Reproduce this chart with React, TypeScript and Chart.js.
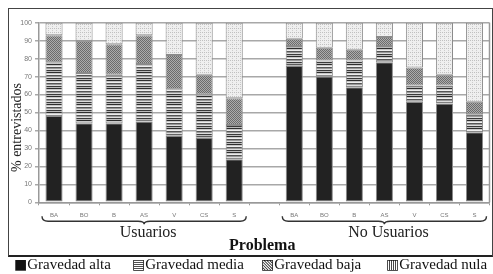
import React, { useEffect, useRef } from "react";
import { Chart, registerables } from "chart.js";

Chart.register(...registerables);

const categories = ["BA", "BO", "B", "AS", "V", "CS", "S", "", "BA", "BO", "B", "AS", "V", "CS", "S"];
const groupLabels = ["Usuarios", "No Usuarios"];
const groupRanges = [[0, 6], [8, 14]];
const seriesNames = ["Gravedad alta", "Gravedad media", "Gravedad baja", "Gravedad nula"];
const legendGlyphs = ["■", "▤", "▧", "▥"];
const alta = [48, 44, 44, 45, 37, 36, 24, null, 76, 70, 64, 78, 56, 55, 39];
const media = [30, 28, 27, 32, 26, 24, 19, null, 11, 9, 15, 9, 9, 10, 10];
const baja = [15, 18, 17, 16, 19, 11, 15, null, 4, 7, 6, 5, 10, 6, 7];
const nula = [7, 10, 12, 7, 18, 29, 42, null, 9, 14, 15, 8, 25, 29, 44];
const yTitle = "% entrevistados";
const xTitle = "Problema";

function makePattern(kind: string): CanvasPattern | string {
  const c = document.createElement("canvas");
  const g = c.getContext("2d");
  if (!g) return "#888";
  if (kind === "media") {
    c.width = 4;
    c.height = 8;
    const rows = ["#2e2e2e", "#c8c8c8", "#eeeeee", "#555", "#999", "#dddddd", "#3a3a3a", "#bbbbbb"];
    rows.forEach((col, i) => {
      g.fillStyle = col;
      g.fillRect(0, i, 4, 1);
    });
  } else if (kind === "baja") {
    c.width = 2;
    c.height = 2;
    g.fillStyle = "#6c6c6c";
    g.fillRect(0, 0, 1, 1);
    g.fillRect(1, 1, 1, 1);
    g.fillStyle = "#acacac";
    g.fillRect(1, 0, 1, 1);
    g.fillRect(0, 1, 1, 1);
  } else if (kind === "nula") {
    c.width = 4;
    c.height = 4;
    g.fillStyle = "#efefef";
    g.fillRect(0, 0, 4, 4);
    g.fillStyle = "#c0c0c0";
    g.fillRect(0, 0, 1, 1);
    g.fillRect(2, 0, 1, 1);
    g.fillStyle = "#cdcdcd";
    g.fillRect(0, 2, 1, 1);
  }
  const p = g.createPattern(c, "repeat");
  return p || "#888";
}

const annotations = {
  id: "annotations",
  afterDraw(chart: any) {
    const { ctx, chartArea } = chart;
    const x = chart.scales.x;
    ctx.save();
    ctx.strokeStyle = "#999";
    ctx.lineWidth = 1.5;
    ctx.beginPath();
    ctx.moveTo(chartArea.right, chartArea.top);
    ctx.lineTo(chartArea.right, chartArea.bottom);
    ctx.stroke();

    const b = chartArea.bottom;
    groupRanges.forEach((rg, gi) => {
      const x0 = x.getPixelForValue(rg[0]) - 12;
      const x1 = x.getPixelForValue(rg[1]) + 12;
      const xm = (x0 + x1) / 2;
      const yTop = b + 14;
      const yMid = b + 19;
      const yBot = b + 22;
      const r = 6;
      ctx.strokeStyle = "#333";
      ctx.lineWidth = 1.4;
      ctx.beginPath();
      ctx.moveTo(x0, yTop);
      ctx.quadraticCurveTo(x0, yMid, x0 + r, yMid);
      ctx.lineTo(xm - r, yMid);
      ctx.quadraticCurveTo(xm, yMid, xm, yBot);
      ctx.quadraticCurveTo(xm, yMid, xm + r, yMid);
      ctx.lineTo(x1 - r, yMid);
      ctx.quadraticCurveTo(x1, yMid, x1, yTop);
      ctx.stroke();
      ctx.fillStyle = "#222";
      ctx.font = '16px "Liberation Serif"';
      ctx.textAlign = "center";
      ctx.textBaseline = "middle";
      ctx.fillText(groupLabels[gi], xm + 4, b + 30);
    });

    ctx.font = 'bold 16px "Liberation Serif"';
    ctx.fillStyle = "#111";
    ctx.textAlign = "center";
    ctx.textBaseline = "middle";
    ctx.fillText(xTitle, (chartArea.left + chartArea.right) / 2 - 2, b + 44);

    ctx.translate(17.5, (chartArea.top + chartArea.bottom) / 2 + 15);
    ctx.rotate(-Math.PI / 2);
    ctx.font = '14px "Liberation Serif"';
    ctx.fillStyle = "#222";
    ctx.fillText(yTitle, 0, 0);
    ctx.restore();
  },
};

export default function App() {
  const ref = useRef<HTMLCanvasElement | null>(null);
  useEffect(() => {
    if (!ref.current) return;
    const fills = [
      "#222222",
      makePattern("media"),
      makePattern("baja"),
      makePattern("nula"),
    ];
    const values = [alta, media, baja, nula];
    const chart = new Chart(ref.current, {
      type: "bar",
      data: {
        labels: categories,
        datasets: seriesNames.map((name, i) => ({
          label: name,
          data: values[i] as any,
          backgroundColor: fills[i] as any,
          borderColor: "#8a8a8a",
          borderWidth: 1,
          borderSkipped: false,
          categoryPercentage: 1,
          barPercentage: 0.57,
        })),
      },
      options: {
        animation: false,
        responsive: false,
        devicePixelRatio: 1,
        layout: { padding: { left: 0, right: 3.5, top: 22.7, bottom: 0 } },
        plugins: { legend: { display: false }, tooltip: { enabled: false } },
        scales: {
          x: {
            stacked: true,
            grid: { drawOnChartArea: false, tickLength: 3, color: "#999", lineWidth: 1 },
            border: { color: "#999", width: 1.5 },
            ticks: {
              color: "#777",
              font: { size: 6, family: '"Liberation Sans"' },
              padding: 6,
              maxRotation: 0,
              autoSkip: false,
            },
            afterFit(scale: any) {
              scale.height = 52.7;
            },
          },
          y: {
            stacked: true,
            min: 0,
            max: 100,
            grid: { color: "#a8a8a8", lineWidth: 1.5, tickLength: 4 },
            border: { color: "#999", width: 1.5 },
            ticks: {
              stepSize: 10,
              color: "#777",
              font: { size: 7, family: '"Liberation Sans"' },
              padding: 3,
            },
            afterFit(scale: any) {
              scale.width = 39;
            },
          },
        },
      },
      plugins: [annotations],
    });
    return () => chart.destroy();
  }, []);

  const legendLefts = [14, 132, 261, 386];
  return (
    <div style={{ position: "fixed", left: 0, top: 0, width: 493, height: 274, overflow: "hidden", background: "#fff" }}>
      <canvas ref={ref} width={493} height={255} style={{ position: "absolute", left: 0, top: 0, width: 493, height: 255 }} />
      <div
        style={{
          position: "absolute",
          left: 8,
          top: 8,
          width: 483,
          height: 246,
          borderTop: "1.5px solid #444",
          borderLeft: "1.5px solid #444",
          borderRight: "1.5px solid #444",
          borderBottom: "2px solid #222",
          pointerEvents: "none",
        }}
      />
      {seriesNames.map((name, i) => (
        <div
          key={name}
          style={{
            position: "absolute",
            left: legendLefts[i],
            top: 256,
            font: '15px "Liberation Serif"',
            color: "#111",
            whiteSpace: "nowrap",
            lineHeight: "17px",
          }}
        >
          <span style={{ fontFamily: '"DejaVu Sans"', fontSize: 14 }}>{legendGlyphs[i]}</span>
          {name}
        </div>
      ))}
    </div>
  );
}
